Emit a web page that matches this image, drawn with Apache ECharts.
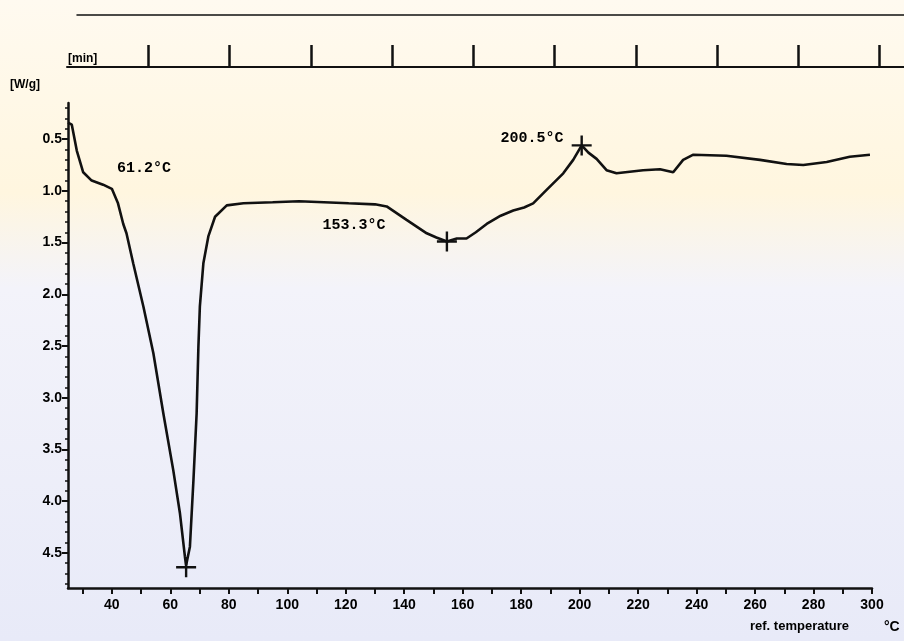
<!DOCTYPE html>
<html style="height: 100%">
<head>
    <meta charset="utf-8">
    <title>DSC</title>
</head>
<body style="height: 100%; margin: 0">
<div id="container" style="width: 904px; height: 641px"></div>
<script type="text/javascript" src="https://cdn.jsdelivr.net/npm/echarts@6/dist/echarts.min.js"></script>
<script type="text/javascript">
    // DSC curve (temperature in °C, heat flow in W/g)
    var temps = [25.0, 26.3, 28.0, 30.2, 33.1, 37.0, 40.0, 42.1, 43.9, 45.0, 47.3, 50.8, 54.2, 57.6, 61.0,
        63.3, 65.0, 65.4, 66.7, 67.9, 69.0, 69.6, 70.1, 71.3, 73.0, 75.3, 79.3, 85, 95, 104, 121, 130, 134,
        140.8, 147.7, 151, 154.6, 158, 161.3, 164.5, 168.2, 173, 177.3, 181, 184.1, 188.7, 194.4, 197.8,
        200.7, 203, 205.8, 209.2, 212.6, 221.7, 227.5, 232, 235.4, 238.9, 250.2, 261.7, 270.8, 276.5,
        284.5, 292.4, 299.3];
    var heatFlow = [0.34, 0.36, 0.61, 0.82, 0.90, 0.94, 0.98, 1.12, 1.32, 1.41, 1.70, 2.12, 2.57, 3.15, 3.70,
        4.12, 4.54, 4.62, 4.44, 3.80, 3.15, 2.51, 2.12, 1.70, 1.44, 1.25, 1.14, 1.12, 1.11, 1.10, 1.12, 1.13, 1.15,
        1.28, 1.41, 1.45, 1.49, 1.46, 1.46, 1.40, 1.32, 1.24, 1.19, 1.16, 1.12, 0.99, 0.83, 0.70,
        0.56, 0.63, 0.69, 0.80, 0.83, 0.80, 0.79, 0.82, 0.70, 0.65, 0.66, 0.70, 0.74, 0.75,
        0.72, 0.67, 0.65];

    // evaluated peaks (+ marks) and their labels
    var peakTemps = [65.4, 154.6, 200.7];
    var peakValues = [4.64, 1.49, 0.56];
    var peakTexts = ['61.2°C', '153.3°C', '200.5°C'];
    var textTemps = [51, 122.8, 183.7];
    var textValues = [0.78, 1.33, 0.49];

    // axis ticks
    var xLabels = [40, 60, 80, 100, 120, 140, 160, 180, 200, 220, 240, 260, 280, 300];
    var xTicks = [30, 40, 50, 60, 70, 80, 90, 100, 110, 120, 130, 140, 150, 160, 170, 180, 190, 200,
        210, 220, 230, 240, 250, 260, 270, 280, 290, 300];
    var yLabels = [0.5, 1.0, 1.5, 2.0, 2.5, 3.0, 3.5, 4.0, 4.5];
    var yMinorTicks = [0.2, 0.3, 0.4, 0.6, 0.7, 0.8, 0.9, 1.1, 1.2, 1.3, 1.4, 1.6, 1.7, 1.8, 1.9,
        2.1, 2.2, 2.3, 2.4, 2.6, 2.7, 2.8, 2.9, 3.1, 3.2, 3.3, 3.4, 3.6, 3.7, 3.8, 3.9,
        4.1, 4.2, 4.3, 4.4, 4.6, 4.7, 4.8];
    var timeTicks = [1, 2, 3, 4, 5, 6, 7, 8, 9, 10];

    var curve = temps.map(function (t, i) { return [t, heatFlow[i]]; });
    var peaks = peakTemps.map(function (t, i) { return [t, peakValues[i]]; });
    var notes = textTemps.map(function (t, i) { return [t, textValues[i], peakTexts[i]]; });

    var tickFont = {fontFamily: '"Liberation Sans Narrow", "Liberation Sans", Arial', fontWeight: 'bold', fontSize: 14, color: '#000'};

    var dom = document.getElementById("container");
    var myChart = echarts.init(dom);
    var option = {
        animation: false,
        backgroundColor: {
            type: 'linear', x: 0, y: 0, x2: 0, y2: 1,
            colorStops: [
                {offset: 0, color: '#fffaf0'},
                {offset: 0.3, color: '#fff6df'},
                {offset: 0.45, color: '#f3f3fa'},
                {offset: 1, color: '#e8eaf8'}
            ]
        },
        grid: [
            {left: 68, right: 32, top: 103, bottom: 53},
            {left: 67, right: 0, top: 66, height: 1},
            {left: 77, right: 0, top: 14, height: 1}
        ],
        xAxis: [
            {
                type: 'value', gridIndex: 0, min: 25, max: 300,
                axisLine: {lineStyle: {color: '#111', width: 2.5}},
                axisTick: {show: true, length: 6, lineStyle: {width: 2, color: '#111'}, customValues: xTicks},
                axisLabel: Object.assign({margin: 10, customValues: xLabels}, tickFont),
                splitLine: {show: false}
            },
            {
                type: 'value', gridIndex: 1, min: 0, max: 10.3,
                axisLine: {lineStyle: {color: '#111', width: 2}},
                axisTick: {show: true, inside: true, length: 22, lineStyle: {width: 2.5, color: '#111'}, customValues: timeTicks},
                axisLabel: {show: false},
                splitLine: {show: false}
            },
            {
                type: 'value', gridIndex: 2, min: 0, max: 1,
                axisLine: {lineStyle: {color: '#111', width: 1.5}},
                axisTick: {show: false},
                axisLabel: {show: false},
                splitLine: {show: false}
            }
        ],
        yAxis: [
            {
                type: 'value', gridIndex: 0, min: 0.15, max: 4.84, inverse: true,
                name: '[W/g]', nameLocation: 'start', nameGap: 12,
                nameTextStyle: {align: 'right', padding: [0, 28, 0, 0], fontFamily: '"Liberation Sans Narrow", Arial', fontWeight: 'bold', fontSize: 12, color: '#000'},
                axisLine: {show: true, lineStyle: {color: '#111', width: 2.5}},
                axisTick: {show: true, length: 6, lineStyle: {width: 2, color: '#111'}, customValues: yLabels},
                axisLabel: Object.assign({margin: 6, customValues: yLabels, formatter: function (v) { return v.toFixed(1); }}, tickFont),
                splitLine: {show: false}
            },
            {
                type: 'value', gridIndex: 0, min: 0.15, max: 4.84, inverse: true, position: 'left',
                axisLine: {show: false},
                axisTick: {show: true, length: 3, lineStyle: {width: 1.5, color: '#111'}, customValues: yMinorTicks},
                axisLabel: {show: false},
                splitLine: {show: false}
            },
            {type: 'value', gridIndex: 1, show: false},
            {type: 'value', gridIndex: 2, show: false}
        ],
        graphic: [
            {type: 'text', left: 68, top: 53, style: {text: '[min]', fontFamily: '"Liberation Sans Narrow", Arial', fontWeight: 'bold', fontSize: 12, fill: '#000'}},
            {type: 'text', left: 750, top: 620, style: {text: 'ref. temperature', fontFamily: '"Liberation Sans Narrow", Arial', fontWeight: 'bold', fontSize: 13, fill: '#000'}},
            {type: 'text', left: 884, top: 620, style: {text: '°C', fontFamily: '"Liberation Sans Narrow", Arial', fontWeight: 'bold', fontSize: 14, fill: '#000'}}
        ],
        series: [
            {
                name: 'DSC', type: 'line', xAxisIndex: 0, yAxisIndex: 0,
                data: curve, showSymbol: false, smooth: false,
                lineStyle: {color: '#111', width: 2.6}
            },
            {
                name: 'peaks', type: 'scatter', xAxisIndex: 0, yAxisIndex: 0,
                data: peaks,
                symbol: 'path://M4.4,0H5.6V4.4H10V5.6H5.6V10H4.4V5.6H0V4.4H4.4Z', symbolSize: 20,
                itemStyle: {color: '#111', opacity: 1}
            },
            {
                name: 'notes', type: 'scatter', xAxisIndex: 0, yAxisIndex: 0,
                data: notes, symbolSize: 0,
                itemStyle: {opacity: 1},
                label: {
                    show: true, position: 'inside',
                    formatter: function (p) { return p.value[2]; },
                    fontFamily: '"Liberation Mono", "Courier New", monospace', fontWeight: 'bold', fontSize: 15, color: '#000'
                }
            }
        ]
    };
    myChart.setOption(option, true);
</script>
</body>
</html>
